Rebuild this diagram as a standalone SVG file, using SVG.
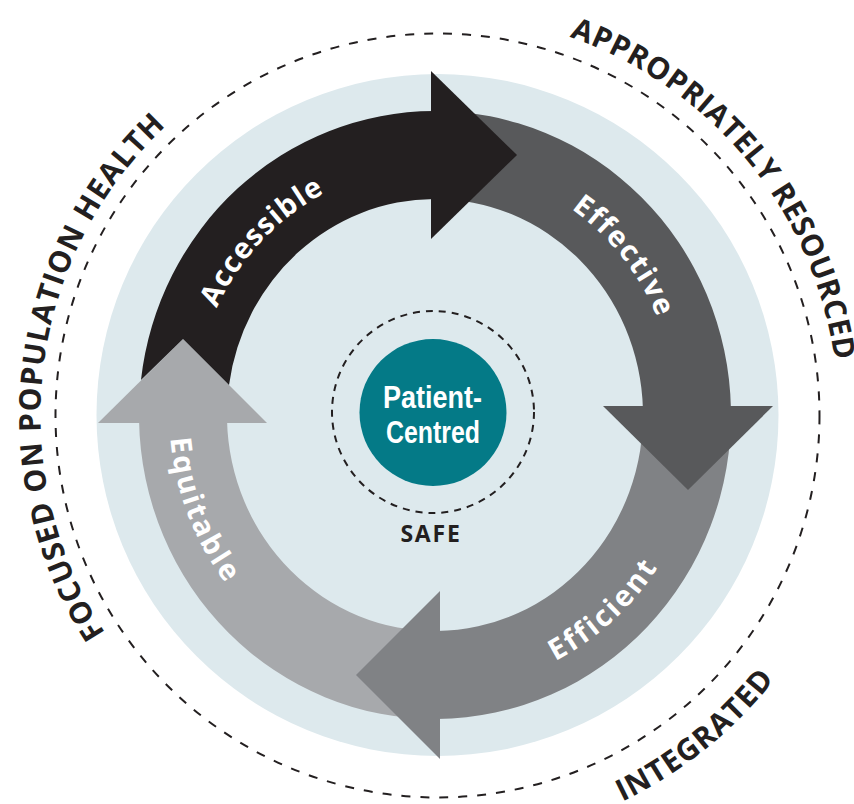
<svg xmlns="http://www.w3.org/2000/svg" width="854" height="804" viewBox="0 0 854 804">
<style>
.lbl{font-family:"Open Sans","Noto Sans","Liberation Sans",sans-serif;font-weight:700;fill:#ffffff;font-size:29px;letter-spacing:2.5px}
.outer{font-family:"Open Sans","Noto Sans","Liberation Sans",sans-serif;font-weight:700;fill:#231f20;font-size:30px;letter-spacing:1.1px}
.dash{fill:none;stroke:#231f20;stroke-width:2}
.ctr{font-family:"Liberation Sans","Arial",sans-serif;font-weight:700;fill:#ffffff;font-size:31px}
</style>
<defs>
<path id="pAcc" d="M 237.18,558.11 A 241.5 249.5 0 0 1 573.52,210.62"/>
<path id="pEff" d="M 314.25,198.93 A 241.5 249.5 0 0 1 620.0,575.38"/>
<path id="pEfc" d="M 266.66,629.10 A 267.5 275.5 0 0 0 664.29,273.11"/>
<path id="pEqu" d="M 293.52,183.57 A 265.5 273.5 0 0 0 491.11,682.32"/>
<path id="pApp" d="M 241.26,65.80 A 401 401 0 0 1 741.51,676.99"/>
<path id="pFoc" d="M 322.09,795.35 A 397 397 0 0 1 416.03,19.08"/>
<path id="pInt" d="M 155.77,737.70 A 428 428 0 0 0 812.56,209.31"/>
</defs>
<rect width="854" height="804" fill="#ffffff"/>
<circle id="background" cx="437.5" cy="415" r="341" fill="#dde9ed"/>
<circle id="outer-ring" class="dash" cx="437.5" cy="415.5" r="382" stroke-dasharray="9 10"/>

<g id="connectors">
  <g id="equitable">
    <path d="M 438,718.98 A 296 304 0 0 1 139.04,420 L 227.03,420 A 208 216 0 0 0 438,630.99 Z" fill="#a7a9ac"/>
    <polygon points="98,423 267,423 183,339" fill="#a7a9ac"/>
    <text class="lbl"><textPath href="#pEqu" startOffset="50%" text-anchor="middle">Equitable</textPath></text>
  </g>
  <g id="efficient">
    <path d="M 730.92,408 A 296 304 0 0 1 437,718.99 L 437,630.99 A 208 216 0 0 0 642.89,408 Z" fill="#808285"/>
    <polygon points="440,591 440,759 356,675" fill="#808285"/>
    <text class="lbl"><textPath href="#pEfc" startOffset="50%" text-anchor="middle">Efficient</textPath></text>
  </g>
  <g id="effective">
    <path d="M 433,111.01 A 296 304 0 0 1 730.94,409 L 642.92,409 A 208 216 0 0 0 433,199 Z" fill="#58595b"/>
    <polygon points="603,406 773,406 688,490" fill="#58595b"/>
    <text class="lbl" style="letter-spacing:1.8px"><textPath href="#pEff" startOffset="50%" text-anchor="middle">Effective</textPath></text>
  </g>
  <g id="accessible">
    <path d="M 140.97,380 A 296 304 0 0 1 434,111 L 434,199 A 208 216 0 0 0 229.02,385 L 183,339 Z" fill="#231f20"/>
    <polygon points="431,71 517,155 431,239" fill="#231f20"/>
    <text class="lbl" style="letter-spacing:1.3px"><textPath href="#pAcc" startOffset="50%" text-anchor="middle">Accessible</textPath></text>
  </g>
</g>

<g id="center">
  <circle class="dash" cx="433" cy="412" r="101" stroke-dasharray="7 6"/>
  <circle cx="433" cy="412.5" r="73.5" fill="#047a87"/>
  <text class="ctr" x="383" y="408" textLength="99" lengthAdjust="spacingAndGlyphs">Patient-</text>
  <text class="ctr" x="386" y="443" textLength="94" lengthAdjust="spacingAndGlyphs">Centred</text>
</g>

<g id="safe">
  <text x="431" y="542" text-anchor="middle" style="font-family:'Open Sans','Noto Sans','Liberation Sans',sans-serif;font-weight:700;font-size:23px;fill:#231f20;letter-spacing:1.8px">SAFE</text>
</g>

<g id="label-resourced">
  <text class="outer" style="letter-spacing:0.6px"><textPath href="#pApp" startOffset="50%" text-anchor="middle">APPROPRIATELY RESOURCED</textPath></text>
</g>
<g id="label-population">
  <text class="outer"><textPath href="#pFoc" startOffset="50%" text-anchor="middle">FOCUSED ON POPULATION HEALTH</textPath></text>
</g>
<g id="label-integrated">
  <text class="outer"><textPath href="#pInt" startOffset="50%" text-anchor="middle">INTEGRATED</textPath></text>
</g>
</svg>
